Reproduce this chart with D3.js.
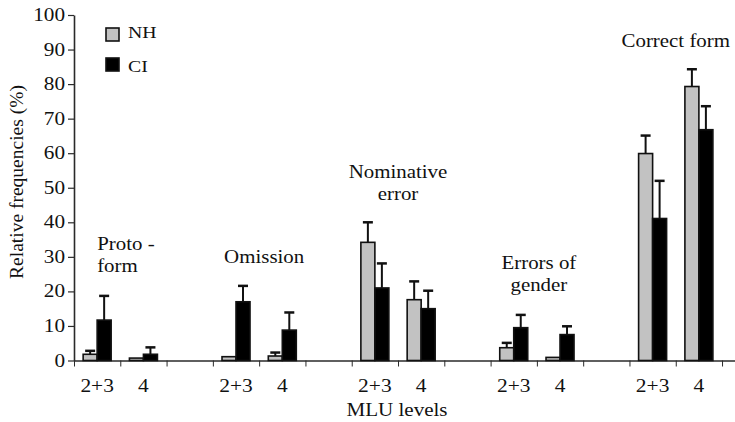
<!DOCTYPE html>
<html>
<head>
    <meta charset="utf-8">
    <style>
        body {
            margin: 0;
            background: white;
            overflow: hidden;
        }
        svg {
            display: block;
            background: white;
        }
        text {
            font-family: "Liberation Serif", "Times New Roman", serif;
            fill: #111;
        }
        .axis path, .axis line {
            stroke: #2a2a2a;
        }
    </style>
    <script src="https://d3js.org/d3.v7.min.js"></script>
</head>
<body>
<script>
// data
const categories = ["Proto-form", "Omission", "Nominative error", "Errors of gender", "Correct form"];
const levels = ["2+3", "4"];
// one value per category x level, in order
const nhValues = [1.8, 0.7, 1.1, 1.3, 34.2, 17.6, 3.7, 0.9, 59.9, 79.3];
const ciValues = [11.7, 1.8, 17.0, 8.8, 21.0, 15.0, 9.5, 7.5, 41.1, 66.8];
const nhErr = [1.0, 0, 0, 1.0, 5.8, 5.3, 1.4, 0, 5.2, 5.0];
const ciErr = [7.0, 2.0, 4.6, 5.1, 7.1, 5.2, 3.7, 2.4, 10.9, 6.8];
const yTicks = [0, 10, 20, 30, 40, 50, 60, 70, 80, 90, 100];
const seriesNames = ["NH", "CI"];
const seriesColors = ["#c2c2c2", "#000000"];
// category captions as drawn (line breaks)
const catLabels = [["Proto -", "form"], ["Omission"], ["Nominative", "error"], ["Errors of", "gender"], ["Correct form"]];

const width = 735, height = 422;
const svg = d3.select("body").append("svg")
    .attr("width", width)
    .attr("height", height);

// 3 slots per category: 2+3, 4, gap
const x = d3.scaleLinear().domain([0, 14.28]).range([74, 735]);
const y = d3.scaleLinear().domain([0, 100]).range([360.5, 15]);
const barW = 14;

// the source image is a bit stretched sideways, so text is widened a touch
function stext(g, px, py, str, size, sx, anchor) {
    return g.append("text")
        .attr("transform", `translate(${px},${py}) scale(${sx},1)`)
        .attr("text-anchor", anchor)
        .style("font-size", size + "px")
        .text(str);
}

// y axis
const yAxis = svg.append("g")
    .attr("class", "axis")
    .attr("transform", `translate(${x(0)},0)`)
    .call(d3.axisLeft(y).tickValues(yTicks).tickSize(6).tickSizeOuter(0).tickFormat(""));
yAxis.select(".domain").attr("stroke-width", 1.6);
yAxis.selectAll(".tick line").attr("stroke-width", 1.2);
yTicks.forEach(t => stext(svg, 65, y(t) + 6, String(t), 18, 1.18, "end"));

// x axis
const xAxis = svg.append("g")
    .attr("class", "axis")
    .attr("transform", `translate(0,${y(0)})`)
    .call(d3.axisBottom(x).tickValues(d3.range(0, 15)).tickSize(6).tickSizeOuter(0).tickFormat(""));
xAxis.select(".domain").attr("stroke-width", 1.6);
xAxis.selectAll(".tick line").attr("stroke-width", 1);

categories.forEach((c, i) => {
    levels.forEach((lv, j) => {
        stext(svg, x(3 * i + j + 0.5), 392, lv, 19.5, 1.1, "middle");
    });
});

stext(svg, 397, 416, "MLU levels", 19.5, 1.08, "middle");

svg.append("text")
    .attr("transform", "translate(23,182) rotate(-90)")
    .attr("text-anchor", "middle")
    .style("font-size", "19.5px")
    .text("Relative frequencies (%)");

// bars
const rows = [];
categories.forEach((c, i) => {
    levels.forEach((lv, j) => {
        const k = i * 2 + j;
        const cx = x(3 * i + j + 0.5);
        rows.push({ s: 0, x: cx - barW, v: nhValues[k], e: nhErr[k] });
        rows.push({ s: 1, x: cx, v: ciValues[k], e: ciErr[k] });
    });
});

const bars = svg.append("g");
bars.selectAll("rect")
    .data(rows)
    .join("rect")
    .attr("x", d => d.x)
    .attr("y", d => y(d.v))
    .attr("width", barW)
    .attr("height", d => y(0) - y(d.v))
    .attr("fill", d => seriesColors[d.s])
    .attr("stroke", "#111")
    .attr("stroke-width", 1.6);

// error bars (upper only)
const errs = svg.append("g").attr("stroke", "#111");
errs.selectAll("line.stem")
    .data(rows.filter(d => d.e > 0))
    .join("line")
    .attr("class", "stem")
    .attr("x1", d => d.x + barW / 2)
    .attr("x2", d => d.x + barW / 2)
    .attr("y1", d => y(d.v))
    .attr("y2", d => y(d.v + d.e))
    .attr("stroke-width", 2);
errs.selectAll("line.cap")
    .data(rows.filter(d => d.e > 0))
    .join("line")
    .attr("class", "cap")
    .attr("x1", d => d.x + barW / 2 - 5)
    .attr("x2", d => d.x + barW / 2 + 5)
    .attr("y1", d => y(d.v + d.e))
    .attr("y2", d => y(d.v + d.e))
    .attr("stroke-width", 2.5);

// category captions
const capPos = [
    { px: x(0.5), anchor: "start", base: [250, 272] },
    { px: x(4) + 5, anchor: "middle", base: [263] },
    { px: x(7), anchor: "middle", base: [178, 200] },
    { px: x(10) + 2, anchor: "middle", base: [269, 291] },
    { px: x(13), anchor: "middle", base: [47] }
];
catLabels.forEach((lines, i) => {
    lines.forEach((ln, l) => {
        stext(svg, capPos[i].px, capPos[i].base[l], ln, 19, 1.1, capPos[i].anchor);
    });
});

// legend
const legend = svg.append("g");
seriesNames.forEach((n, i) => {
    legend.append("rect")
        .attr("x", 106)
        .attr("y", 28 + i * 30)
        .attr("width", 13)
        .attr("height", 13)
        .attr("fill", seriesColors[i])
        .attr("stroke", "#111")
        .attr("stroke-width", 1.6);
    stext(legend, 128, 37.5 + i * 34, n, 17.5, 1.13, "start");
});
</script>
</body>
</html>
